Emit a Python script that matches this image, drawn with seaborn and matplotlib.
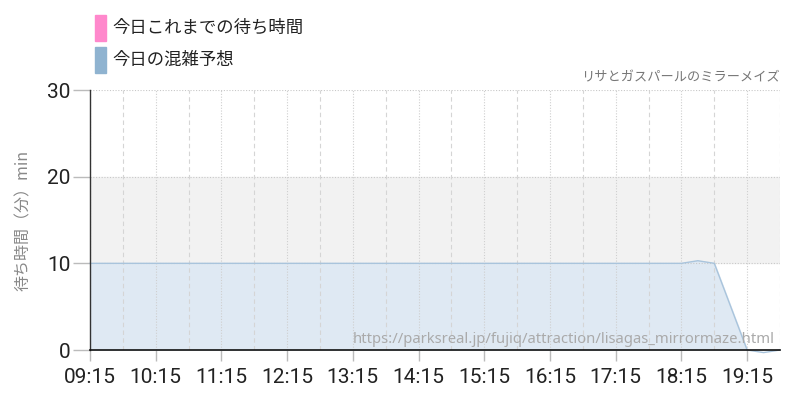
import matplotlib
matplotlib.use('Agg')
import matplotlib.pyplot as plt
from matplotlib.patches import Rectangle
import seaborn as sns
import pandas as pd

# 今日の混雑予想 (15分おき)
times = ['09:15', '09:30', '09:45', '10:00', '10:15', '10:30', '10:45', '11:00',
         '11:15', '11:30', '11:45', '12:00', '12:15', '12:30', '12:45', '13:00',
         '13:15', '13:30', '13:45', '14:00', '14:15', '14:30', '14:45', '15:00',
         '15:15', '15:30', '15:45', '16:00', '16:15', '16:30', '16:45', '17:00',
         '17:15', '17:30', '17:45', '18:00', '18:15', '18:30', '18:45', '19:00',
         '19:15', '19:30', '19:45']
forecast = [10, 10, 10, 10, 10, 10, 10, 10,
            10, 10, 10, 10, 10, 10, 10, 10,
            10, 10, 10, 10, 10, 10, 10, 10,
            10, 10, 10, 10, 10, 10, 10, 10,
            10, 10, 10, 10, 10, 10.3, 10, 5,
            0, -0.3, 0]
tick_labels = ['09:15', '10:15', '11:15', '12:15', '13:15', '14:15',
               '15:15', '16:15', '17:15', '18:15', '19:15']
y_ticks = [0, 10, 20, 30]
legend_labels = ['今日これまでの待ち時間', '今日の混雑予想']
legend_colors = ['#ff88cc', '#8fb3d0']

jp = ['Noto Sans CJK JP', 'DejaVu Sans']
num_font = ['Roboto', 'DejaVu Sans']

sns.set_theme(style='white')
plt.rcParams['font.family'] = jp


def to_dt(ts):
    return pd.to_datetime(['2024-01-01 ' + t for t in ts])


df = pd.DataFrame({'time': to_dt(times), 'wait': forecast})

fig = plt.figure(figsize=(8, 4), dpi=100)
ax = fig.add_axes([90 / 800, 50 / 400, 690 / 800, 260 / 400])

ax.axhspan(10, 20, color='#f2f2f2', zorder=0)
ax.fill_between(df['time'], df['wait'], 0, color='#dfe9f3', zorder=1)
sns.lineplot(data=df, x='time', y='wait', ax=ax, color='#a9c4dc', lw=1, zorder=2)
for ln in ax.lines:
    ln.set_clip_on(False)

ax.set_xlim(df['time'].iloc[0], df['time'].iloc[-1])
ax.set_ylim(0, 30)

# 目盛り
minor = to_dt([t for t in times if t.endswith(':45')])
ax.set_xticks(to_dt(tick_labels))
ax.set_xticklabels(tick_labels, family=num_font, fontsize=15, color='#222')
ax.set_yticks(y_ticks)
ax.set_yticklabels([str(v) for v in y_ticks], family=num_font, fontsize=15, color='#222')
ax.tick_params(axis='x', length=8, color='#bbb', width=1, pad=5, bottom=True)
ax.tick_params(axis='y', length=12, color='#bbb', width=1, pad=2, left=True)

ax.grid(False)
for v in y_ticks[1:]:
    ax.axhline(v, color='#c8c8c8', lw=0.8, ls=(0, (1, 1.5)), zorder=1.5)
for t in ax.get_xticks():
    ax.axvline(t, color='#cfcfcf', lw=0.8, ls=(0, (1, 1.5)), zorder=1.5)
for t in minor:
    ax.axvline(t, color='#d5d5d5', lw=0.8, ls=(0, (4, 3)), zorder=1.5)

for s in ['top', 'right']:
    ax.spines[s].set_visible(False)
ax.spines['left'].set_color('#333')
ax.spines['left'].set_linewidth(1)
ax.spines['bottom'].set_color('#111')
ax.spines['bottom'].set_linewidth(1.2)
ax.spines['bottom'].set_zorder(3)

ax.set_xlabel('')
ax.set_ylabel('待ち時間（分）min', color='#888', fontsize=11.5, labelpad=11)

# 凡例
for i, (lab, col) in enumerate(zip(legend_labels, legend_colors)):
    top = 15 + i * 32
    fig.patches.append(Rectangle((95 / 800, 1 - (top + 26) / 400), 11 / 800, 26 / 400,
                                 transform=fig.transFigure, color=col))
    fig.text(112 / 800, 1 - (top + 13) / 400, lab, va='center', ha='left',
             fontsize=12.5, color='#222')

fig.text(780 / 800, 1 - 78 / 400, 'リサとガスパールのミラーメイズ', ha='right', va='center',
         fontsize=9.5, color='#777')
ax.text(0.992, 0.04, 'https://parksreal.jp/fujiq/attraction/lisagas_mirrormaze.html',
        transform=ax.transAxes, ha='right', va='center', fontsize=10.7,
        color='#aaa', family=['Noto Sans', 'DejaVu Sans'], zorder=4)

plt.savefig('out.png', dpi=100)
